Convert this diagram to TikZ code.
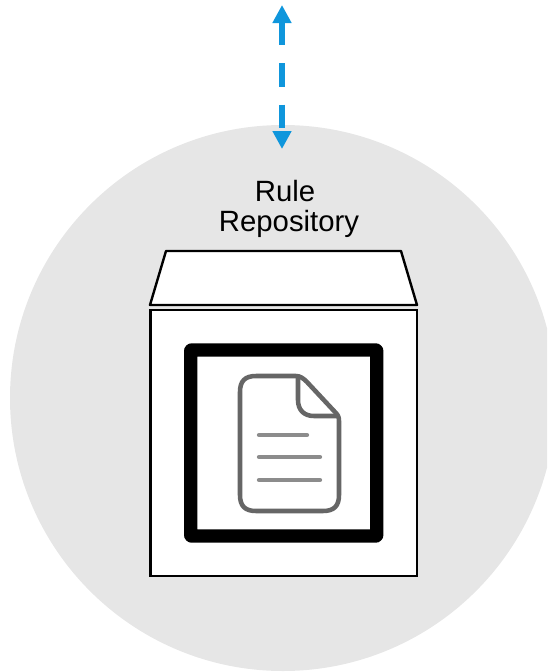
\documentclass[tikz,border=0pt]{standalone}
\usepackage{fontspec}
\setmainfont{Liberation Sans}
\usetikzlibrary{arrows.meta,positioning}
\definecolor{repoGray}{HTML}{E6E6E6}
\definecolor{repoBlue}{HTML}{0F96DC}
\definecolor{docGray}{HTML}{666666}
\definecolor{docLine}{HTML}{8C8C8C}

\begin{document}
\begin{tikzpicture}[
		x=0.75pt, y=-0.75pt,
		zone/.style={circle,fill=repoGray,minimum size=409.5pt,inner sep=0pt},
		repobox/.style={rectangle,draw,fill=white,line width=1.8pt,minimum size=199.9pt,inner sep=0pt},
		docframe/.style={rectangle,draw,line width=10pt,line join=round,rounded corners=0.5pt,minimum size=139.5pt,inner sep=0pt},
		lid/.style={draw,fill=white,line width=1.8pt,line join=round},
		doc/.style={draw=docGray,line width=3.4pt,line join=round},
		docrow/.style={draw=docLine,line width=3.2pt,line cap=round},
		link/.style={draw=repoBlue,line width=5pt,dash pattern=on 17.5pt off 13.5pt,
				{Triangle[width=13.5pt,length=13.5pt]}-{Triangle[width=13.5pt,length=13.5pt]}}
	]

	\useasboundingbox (0,0) rectangle (547,672);
	\clip (0,0) rectangle (547,672);

	\node[zone] (zone) at (283,398) {};

	\node[align=center,font=\fontsize{22}{22.5}\selectfont] (title) at (289,209) {Rule\hspace*{6pt}\\Repository};

	\draw[lid] (166,251) -- (401,251) -- (417,305) -- (150,305) -- cycle;

	\node[repobox] (box) at (283.7,443) {};
	\node[docframe] (frame) at (283.7,443) {};

	% page with folded corner
	\draw[doc] (296,376) -- (256,376) .. controls (245,376) and (240,381) .. (240,392)
		-- (240,495) .. controls (240,506) and (245,511) .. (256,511)
		-- (323,511) .. controls (334,511) and (339,506) .. (339,495)
		-- (339,421) .. controls (339,417) and (338,415) .. (335,412)
		-- (307,382) .. controls (303,378) and (300,376) .. (296,376) -- cycle;
	\draw[doc] (298,376) -- (298,400) .. controls (298,410) and (304,416) .. (314,416) -- (339,416);
	\draw[docrow] (259,435) -- (307,435);
	\draw[docrow] (259,457) -- (320,457);
	\draw[docrow] (259,480) -- (320,480);

	\coordinate (linkTop) at (282,5);
	\coordinate (linkEnd) at (282,149);
	\draw[link] (linkTop) -- (linkEnd);

\end{tikzpicture}
\end{document}
